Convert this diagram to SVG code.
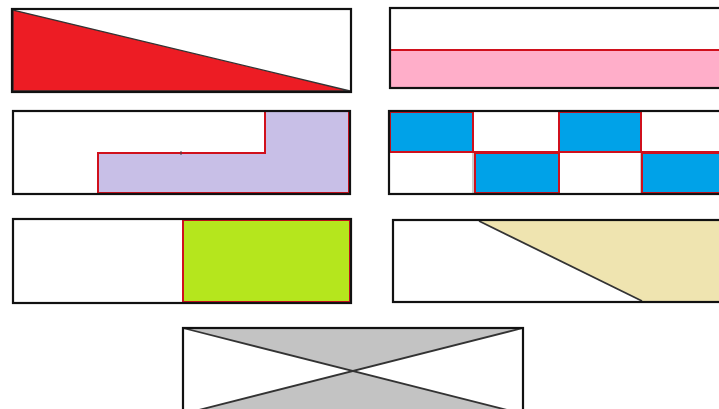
<svg xmlns="http://www.w3.org/2000/svg" width="719" height="409" viewBox="0 0 719 409">
<style>
.frame{fill:none;stroke:#111;stroke-width:2.2}
.bg{fill:#fff}
.redline{stroke:#d0101c;stroke-width:2}
.thin{stroke:#333;stroke-width:1.8;fill:none}
</style>
<rect width="719" height="409" fill="#fff"/>
<g id="panel1">
<rect class="bg" x="12" y="9" width="339" height="83"/>
<polygon points="13,10 13,91 350,91" fill="#ED1C24" stroke="#333" stroke-width="1.3"/>
<rect class="frame" x="12" y="9" width="339" height="83"/>
</g>
<g id="panel2">
<rect class="bg" x="390" y="8" width="340" height="80"/>
<rect x="390" y="50" width="340" height="38" fill="#FFAEC9" class="redline"/>
<rect class="frame" x="390" y="8" width="340" height="80"/>
</g>
<g id="panel3">
<rect class="bg" x="13" y="111" width="337" height="83"/>
<polygon points="98,193 98,153 265,153 265,111 349,111 349,193" fill="#C8BFE7" class="redline"/>
<line x1="181" y1="151" x2="181" y2="155" stroke="#444" stroke-width="1"/>
<rect class="frame" x="13" y="111" width="337" height="83"/>
</g>
<g id="panel4">
<rect class="bg" x="389" y="111" width="340" height="83"/>
<line x1="389" y1="152" x2="729" y2="152" class="redline"/>
<line x1="473" y1="111" x2="473" y2="194" stroke="#999" stroke-width="1"/>
<line x1="559" y1="111" x2="559" y2="194" stroke="#999" stroke-width="1"/>
<line x1="641" y1="111" x2="641" y2="194" stroke="#999" stroke-width="1"/>
<rect x="390" y="112" width="83" height="40" fill="#00A2E8" class="redline"/>
<rect x="559" y="112" width="82" height="40" fill="#00A2E8" class="redline"/>
<rect x="475" y="153" width="84" height="40" fill="#00A2E8" class="redline"/>
<rect x="642" y="153" width="84" height="40" fill="#00A2E8" class="redline"/>
<rect class="frame" x="389" y="111" width="340" height="83"/>
</g>
<g id="panel5">
<rect class="bg" x="13" y="219" width="338" height="84"/>
<rect x="183" y="220" width="167" height="82" fill="#B5E61D" class="redline"/>
<rect class="frame" x="13" y="219" width="338" height="84"/>
</g>
<g id="panel6">
<rect class="bg" x="393" y="220" width="340" height="82"/>
<polygon points="479,221 733,221 733,301 642,301" fill="#EFE4B0"/>
<line x1="479" y1="221" x2="642" y2="301" class="thin"/>
<rect class="frame" x="393" y="220" width="340" height="82"/>
</g>
<g id="panel7">
<rect class="bg" x="183" y="328" width="340" height="86"/>
<polygon points="183,328 523,328 353,371" fill="#C3C3C3"/>
<polygon points="183,414 523,414 353,371" fill="#C3C3C3"/>
<line x1="183" y1="328" x2="523" y2="414" class="thin"/>
<line x1="523" y1="328" x2="183" y2="414" class="thin"/>
<rect class="frame" x="183" y="328" width="340" height="86"/>
</g>
</svg>
